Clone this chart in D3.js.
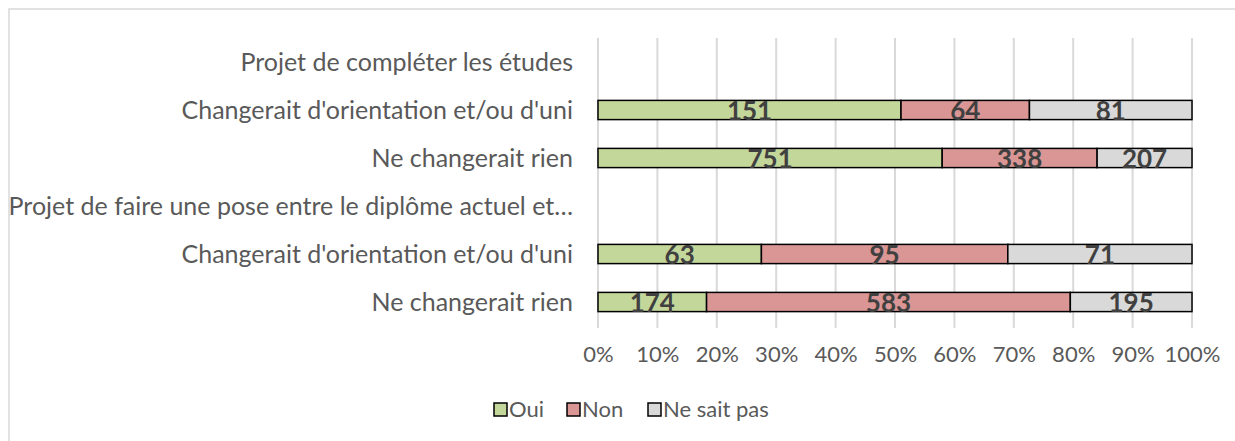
<!DOCTYPE html>
<html>
<head>
<meta charset="utf-8">
<script src="https://cdn.jsdelivr.net/npm/d3@7"></script>
<style>
  body { margin: 0; background: #fff; }
  svg { display: block; font-family: Lato, "Open Sans", sans-serif; }
</style>
</head>
<body>
<svg id="chart" width="1235" height="441"></svg>
<script>
// categories, top to bottom
var categories = [
  "Projet de compléter les études",
  "Changerait d'orientation et/ou d'uni",
  "Ne changerait rien",
  "Projet de faire une pose entre le diplôme actuel et…",
  "Changerait d'orientation et/ou d'uni",
  "Ne changerait rien"
];
var seriesNames = ["Oui", "Non", "Ne sait pas"];
var oui   = [null, 151, 751, null, 63, 174];
var non   = [null, 64, 338, null, 95, 583];
var nsp   = [null, 81, 207, null, 71, 195];
var tickValues = [0, 0.1, 0.2, 0.3, 0.4, 0.5, 0.6, 0.7, 0.8, 0.9, 1];
var colors = ["#c4d79b", "#da9694", "#d9d9d9"];

var svg = d3.select('#chart');

// outer chart border (runs off the picture on the right/bottom)
svg.append('rect')
   .attr('x', 9).attr('y', 9)
   .attr('width', 1240).attr('height', 450)
   .attr('fill', 'none')
   .attr('stroke', '#d9d9d9')
   .attr('stroke-width', 1.5);

var x = d3.scaleLinear().domain([0, 1]).range([598, 1192]);
var y = d3.scaleBand()
          .domain(d3.range(categories.length))
          .range([38, 326])
          .paddingInner(0.6)
          .paddingOuter(0.3);

// gridlines
svg.append('g').selectAll('line')
   .data(tickValues)
   .enter().append('line')
   .attr('x1', function(d) { return x(d); })
   .attr('x2', function(d) { return x(d); })
   .attr('y1', 38).attr('y2', 328)
   .attr('stroke', '#d9d9d9')
   .attr('stroke-width', 2);

// x axis labels
var xAxis = d3.axisBottom(x)
              .tickValues(tickValues)
              .tickFormat(d3.format('.0%'))
              .tickSize(0)
              .tickPadding(0);
var gx = svg.append('g').attr('transform', 'translate(0,346)').call(xAxis);
gx.select('.domain').remove();
gx.selectAll('text')
  .attr('fill', '#595959')
  .style('font-size', '22px')
  .style('font-family', 'Lato, sans-serif');

// category labels
var yAxis = d3.axisLeft(y)
              .tickFormat(function(i) { return categories[i]; })
              .tickSize(0)
              .tickPadding(0);
var gy = svg.append('g').attr('transform', 'translate(573,0)').call(yAxis);
gy.select('.domain').remove();
gy.selectAll('text')
  .attr('fill', '#595959')
  .attr('dy', '0.35em')
  .style('font-size', '25px')
  .style('font-family', 'Lato, sans-serif');

// stacked rows
var rows = categories.map(function(c, i) {
  var vals = [oui[i], non[i], nsp[i]];
  if (vals[0] === null) return { i: i, segs: [] };
  var total = d3.sum(vals), acc = 0;
  var segs = vals.map(function(v, k) {
    var s = { k: k, v: v, x0: acc / total, x1: (acc + v) / total };
    acc += v;
    return s;
  });
  return { i: i, segs: segs };
});

var rowG = svg.append('g').selectAll('g')
   .data(rows)
   .enter().append('g')
   .attr('transform', function(d) { return 'translate(0,' + y(d.i) + ')'; });

rowG.selectAll('rect')
   .data(function(d) { return d.segs; })
   .enter().append('rect')
   .attr('x', function(d) { return x(d.x0); })
   .attr('width', function(d) { return x(d.x1) - x(d.x0); })
   .attr('y', 0)
   .attr('height', y.bandwidth())
   .attr('fill', function(d) { return colors[d.k]; })
   .attr('stroke', '#000')
   .attr('stroke-width', 1.5);

rowG.selectAll('text')
   .data(function(d) { return d.segs; })
   .enter().append('text')
   .attr('x', function(d) { return (x(d.x0) + x(d.x1)) / 2; })
   .attr('y', y.bandwidth() / 2 + 10)
   .attr('text-anchor', 'middle')
   .attr('fill', '#404040')
   .style('font-size', '26px')
   .style('font-weight', 'bold')
   .text(function(d) { return d.v; });

// legend
var legendX = [494, 567, 648];
var legend = svg.append('g').selectAll('g')
   .data(seriesNames)
   .enter().append('g')
   .attr('transform', function(d, k) { return 'translate(' + legendX[k] + ',403)'; });
legend.append('rect')
   .attr('width', 13).attr('height', 13)
   .attr('fill', function(d, k) { return colors[k]; })
   .attr('stroke', '#000')
   .attr('stroke-width', 1.5);
legend.append('text')
   .attr('x', 15).attr('y', 6.5)
   .attr('dy', '0.35em')
   .attr('fill', '#595959')
   .style('font-size', '22px')
   .text(function(d) { return d; });
</script>
</body>
</html>
